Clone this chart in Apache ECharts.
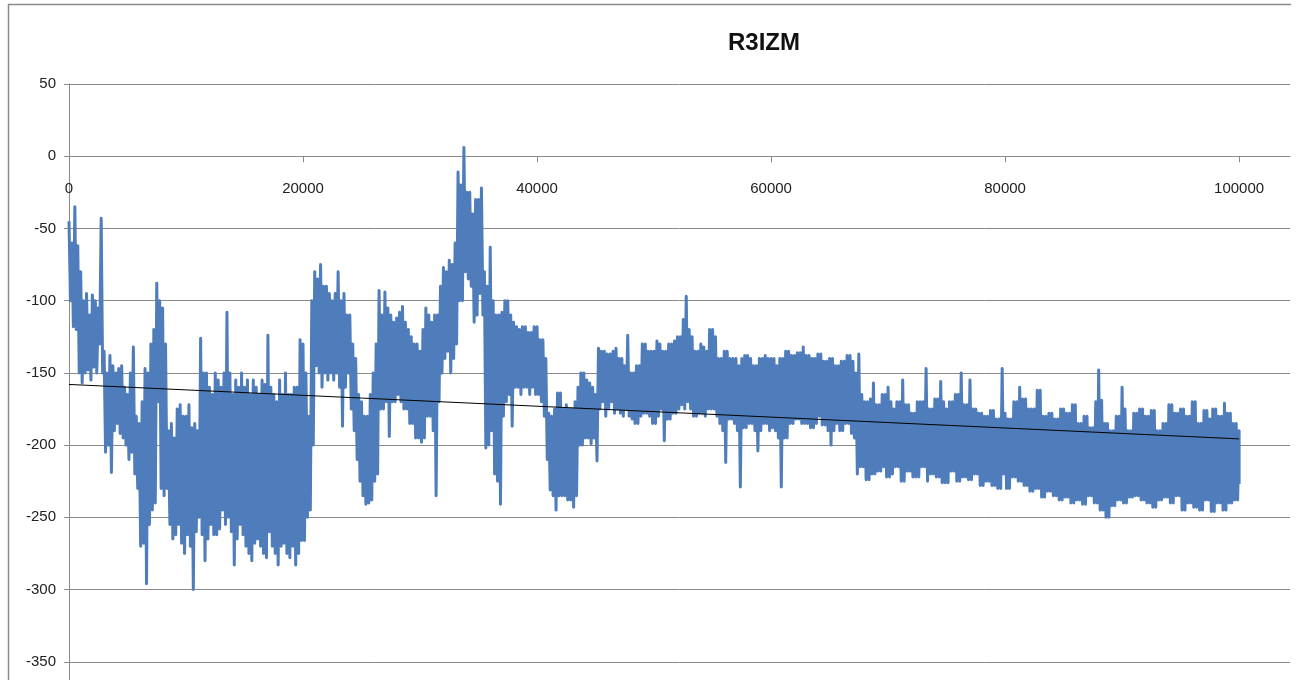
<!DOCTYPE html>
<html>
<head>
<meta charset="utf-8">
<title>R3IZM</title>
<script src="https://cdn.jsdelivr.net/npm/echarts@6/dist/echarts.min.js"></script>
<style>
  html, body { margin: 0; padding: 0; background: #ffffff; }
  #chart { width: 1298px; height: 680px; }
</style>
</head>
<body>
<div id="chart"></div>
<script>
// Sample spacing: each step holds one upper and one lower reading
const step = 250;

// Upper readings of the series, one every `step` units (0 .. 100000)
const highs = [
  -45, -60, -35, -62, -80, -100, -95, -110, -96, -100,
  -105, -43, -135, -150, -138, -145, -150, -147, -145, -160,
  -165, -150, -132, -180, -185, -170, -147, -150, -130, -120,
  -88, -100, -105, -130, -190, -185, -195, -175, -172, -180,
  -180, -172, -188, -185, -190, -126, -150, -150, -160, -165,
  -150, -155, -160, -150, -108, -150, -165, -155, -160, -150,
  -160, -155, -165, -155, -160, -165, -155, -158, -124, -160,
  -165, -170, -155, -165, -150, -165, -165, -160, -160, -127,
  -130, -150, -180, -100, -80, -85, -75, -90, -90, -95,
  -100, -95, -80, -100, -95, -110, -110, -130, -140, -165,
  -170, -180, -180, -165, -150, -130, -93, -110, -94, -105,
  -110, -115, -112, -108, -104, -115, -120, -125, -130, -130,
  -135, -120, -105, -110, -115, -110, -110, -90, -77, -80,
  -72, -75, -60, -11, -20, 6, -25, -25, -40, -30,
  -30, -22, -80, -90, -63, -100, -110, -110, -108, -100,
  -100, -110, -115, -118, -120, -118, -118, -122, -122, -118,
  -118, -127, -127, -140, -178, -180, -175, -164, -164, -175,
  -172, -175, -175, -170, -160, -150, -150, -155, -157, -160,
  -165, -133, -135, -135, -137, -137, -135, -133, -140, -140,
  -145, -124, -150, -150, -145, -145, -130, -130, -135, -135,
  -135, -128, -130, -135, -135, -130, -130, -128, -125, -125,
  -113, -97, -120, -125, -135, -135, -130, -132, -135, -120,
  -120, -125, -140, -140, -135, -135, -140, -140, -140, -145,
  -140, -138, -138, -140, -145, -145, -140, -140, -138, -140,
  -140, -140, -145, -140, -140, -135, -135, -138, -138, -136,
  -136, -132, -138, -138, -140, -140, -137, -137, -142, -142,
  -140, -140, -145, -145, -142, -142, -138, -138, -142, -150,
  -137, -165, -170, -170, -168, -157, -172, -172, -165, -165,
  -160, -170, -175, -170, -170, -155, -172, -172, -178, -178,
  -170, -170, -170, -147, -175, -175, -168, -168, -156, -170,
  -175, -170, -170, -165, -165, -150, -172, -172, -155, -175,
  -175, -178, -178, -180, -180, -176, -176, -182, -182, -147,
  -178, -182, -182, -170, -170, -160, -168, -168, -175, -175,
  -175, -162, -162, -180, -180, -178, -178, -182, -182, -175,
  -175, -178, -178, -172, -172, -185, -185, -180, -180, -188,
  -188, -170, -148, -169, -185, -185, -190, -190, -180, -180,
  -160, -175, -190, -190, -178, -178, -175, -175, -180, -180,
  -176, -176, -190, -190, -185, -185, -172, -172, -178, -178,
  -175, -175, -180, -180, -170, -170, -185, -185, -176, -176,
  -182, -175, -175, -180, -180, -171, -178, -178, -185, -185,
  -190
];

// Lower readings of the series, taken half a step after each upper one
const lows = [
  -100, -118, -120, -150, -157, -150, -148, -155, -146, -150,
  -130, -150, -205, -200, -219, -190, -185, -192, -195, -200,
  -210, -205, -220, -230, -270, -268, -296, -255, -245, -240,
  -170, -230, -235, -230, -255, -265, -262, -255, -268, -275,
  -262, -270, -300, -260, -250, -262, -280, -265, -255, -262,
  -262, -258, -245, -255, -250, -260, -283, -265, -255, -262,
  -270, -275, -280, -268, -265, -270, -275, -278, -260, -270,
  -275, -283, -270, -268, -275, -278, -270, -283, -275, -266,
  -266, -250, -245, -200, -145, -150, -160, -150, -155, -150,
  -155, -150, -160, -187, -160, -150, -175, -190, -210, -225,
  -235, -241, -240, -238, -225, -220, -175, -175, -170, -194,
  -170, -170, -165, -170, -175, -175, -185, -185, -195, -195,
  -198, -195, -180, -180, -190, -235, -170, -150, -140, -135,
  -150, -140, -130, -100, -100, -80, -85, -90, -115, -110,
  -95, -110, -202, -200, -190, -220, -225, -241, -180, -170,
  -165, -187, -160, -160, -165, -160, -160, -165, -160, -165,
  -165, -170, -180, -210, -231, -235, -245, -235, -235, -235,
  -238, -238, -243, -235, -200, -200, -195, -195, -199, -195,
  -211, -175, -170, -180, -175, -170, -178, -175, -178, -180,
  -175, -180, -182, -185, -185, -180, -178, -178, -180, -185,
  -185, -180, -175, -197, -182, -182, -178, -178, -175, -172,
  -175, -170, -175, -180, -180, -178, -178, -180, -175, -175,
  -175, -180, -185, -190, -212, -182, -182, -185, -190, -229,
  -188, -188, -185, -185, -190, -204, -190, -185, -185, -190,
  -188, -190, -195, -229, -195, -195, -185, -185, -182, -182,
  -185, -185, -185, -188, -188, -185, -180, -186, -186, -190,
  -200, -190, -185, -190, -190, -185, -185, -192, -195, -220,
  -215, -215, -224, -224, -220, -220, -218, -218, -215, -222,
  -222, -220, -215, -215, -225, -225, -218, -218, -222, -222,
  -222, -215, -215, -225, -220, -220, -222, -222, -226, -226,
  -226, -218, -218, -225, -225, -222, -222, -224, -224, -220,
  -220, -228, -228, -225, -225, -228, -228, -230, -230, -220,
  -230, -230, -222, -222, -225, -225, -228, -228, -232, -232,
  -230, -230, -236, -236, -232, -232, -235, -235, -238, -238,
  -236, -236, -240, -240, -238, -238, -241, -241, -235, -235,
  -240, -240, -245, -245, -250, -250, -242, -242, -238, -238,
  -240, -240, -236, -236, -235, -235, -238, -238, -240, -240,
  -243, -243, -238, -238, -236, -236, -240, -240, -235, -235,
  -245, -245, -240, -240, -243, -243, -245, -245, -238, -238,
  -246, -246, -240, -240, -245, -245, -240, -240, -238, -238,
  -227
];

// Linear trend line end points
const trendX = [0, 100000];
const trendY = [-158, -195.7];

// Axis ticks
const xTicks = [0, 20000, 40000, 60000, 80000, 100000];
const xMax = 104350;
const yMin = -400, yMax = 50, yStep = 50;

// Interleave upper and lower readings into one trace
const seriesData = [];
highs.forEach((h, i) => {
  seriesData.push([i * step, h]);
  if (i < highs.length - 1) seriesData.push([i * step + step / 2, lows[i]]);
  else seriesData.push([i * step, lows[i]]);
});
const trendData = trendX.map((x, i) => [x, trendY[i]]);

// Plot frame geometry
const plotTop = 84, plotLeft = 69, plotRight = 1290;
const plotHeight = 650;                    // 50 .. -400, the lowest band runs off the page
const zeroY = plotTop + plotHeight * (yMax - 0) / (yMax - yMin);
const plotBottomY = plotTop + plotHeight;

const chart = echarts.init(document.getElementById('chart'), null, { renderer: 'canvas' });
const labelFont = { fontFamily: 'Liberation Sans', fontSize: 15, color: '#222' };
const gray = '#8a8a8a';

chart.setOption({
  animation: false,
  backgroundColor: '#ffffff',
  title: {
    text: 'R3IZM',
    left: 723,
    top: 26,
    textStyle: { fontFamily: 'Liberation Sans', fontSize: 24, fontWeight: 'bold', color: '#111' }
  },
  graphic: [
    { type: 'line', shape: { x1: 8, y1: 4.5, x2: 1291, y2: 4.5 }, style: { stroke: gray, lineWidth: 1.5 } },
    { type: 'line', shape: { x1: 8.5, y1: 4, x2: 8.5, y2: 680 }, style: { stroke: gray, lineWidth: 1.5 } }
  ],
  grid: {
    left: plotLeft,
    top: plotTop,
    width: plotRight - plotLeft,
    height: plotHeight,
    containLabel: false,
    outerBoundsMode: 'none'
  },
  xAxis: {
    type: 'value',
    min: 0,
    max: xMax,
    offset: zeroY - plotBottomY,
    axisLine: { onZero: false, lineStyle: { color: gray, width: 1 } },
    axisTick: { show: true, length: 6, customValues: xTicks, lineStyle: { color: gray } },
    axisLabel: { customValues: xTicks, margin: 25, formatter: v => String(v), ...labelFont },
    splitLine: { show: false }
  },
  yAxis: {
    type: 'value',
    min: yMin,
    max: yMax,
    interval: yStep,
    axisLine: { show: true, lineStyle: { color: gray, width: 1 } },
    axisTick: { show: true, length: 5, lineStyle: { color: gray } },
    axisLabel: { margin: 13, formatter: v => String(v), ...labelFont },
    splitLine: { show: true, lineStyle: { color: gray, width: 1 } }
  },
  series: [
    {
      name: 'R3IZM',
      type: 'line',
      data: seriesData,
      showSymbol: false,
      symbol: 'none',
      sampling: null,
      lineStyle: { color: '#4F7CBA', width: 3, join: 'round' },
      z: 2
    },
    {
      name: 'trend',
      type: 'line',
      data: trendData,
      showSymbol: false,
      symbol: 'none',
      lineStyle: { color: '#000000', width: 1 },
      z: 3
    }
  ]
});
</script>
</body>
</html>
